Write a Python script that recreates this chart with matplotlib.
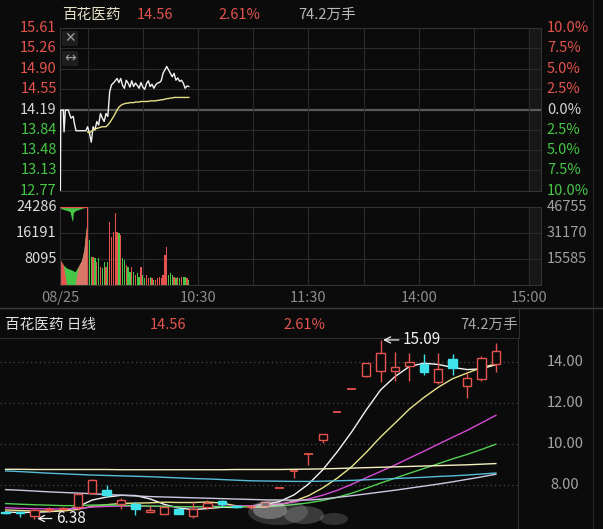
import numpy as np
import pandas as pd
import matplotlib
matplotlib.use('Agg')
import matplotlib.pyplot as plt
from matplotlib.patches import Rectangle, Ellipse
from matplotlib.lines import Line2D

plt.rcParams['font.family'] = ['Noto Sans CJK SC', 'DejaVu Sans']

W, H = 603, 529
BG = '#0b0b0b'
RED = '#e4534e'
GREEN = '#46c646'
CYAN = '#3fe2ea'
GRID = '#2b2b2b'

# ---------------- intraday data (minutes counted from 9:15) ----------------
prev_close = 14.19
price_levels = [15.61, 15.26, 14.90, 14.55, 14.19, 13.84, 13.48, 13.13, 12.77]
pct_labels = ['10.0%', '7.5%', '5.0%', '2.5%', '0.0%', '2.5%', '5.0%', '7.5%', '10.0%']
grid_minutes = [15, 45, 75, 105, 135, 165, 195, 225, 255]
time_ticks = [0, 75, 135, 195, 255]
time_labels = ['08/25', '10:30', '11:30', '14:00', '15:00']

auction_t = [0.2, 0.4, 1.8, 2.2, 2.9, 4.5, 5.1, 6.0, 7.2, 7.8, 8.7, 14.1]
auction_p = [12.77, 14.18, 14.18, 13.80, 14.18, 14.18, 14.12, 14.04, 14.07, 13.95, 13.82, 13.82]

minutes = list(range(15, 71))
price = [13.89, 13.78, 13.62, 13.89, 13.83, 13.98, 13.92, 14.12, 14.04, 13.98,
         14.12, 14.07, 14.50, 14.62, 14.65, 14.69, 14.73, 14.66, 14.73, 14.61,
         14.56, 14.70, 14.65, 14.58, 14.69, 14.59, 14.65, 14.61, 14.56, 14.66,
         14.58, 14.54, 14.64, 14.69, 14.59, 14.63, 14.56, 14.62, 14.65, 14.66,
         14.69, 14.82, 14.88, 14.94, 14.88, 14.82, 14.76, 14.82, 14.70, 14.74,
         14.68, 14.70, 14.65, 14.56, 14.60, 14.59]
avg_price = [13.80, 13.78, 13.81, 13.83, 13.85, 13.86, 13.87, 13.88, 13.89, 13.89,
             13.89, 13.92, 13.96, 14.01, 14.06, 14.12, 14.18, 14.23, 14.26, 14.28,
             14.29, 14.30, 14.30, 14.31, 14.31, 14.31, 14.32, 14.32, 14.32, 14.33,
             14.33, 14.33, 14.33, 14.33, 14.34, 14.34, 14.34, 14.34, 14.35, 14.35,
             14.36, 14.36, 14.37, 14.38, 14.38, 14.39, 14.39, 14.40, 14.40, 14.40,
             14.40, 14.40, 14.40, 14.40, 14.40, 14.40]
volume = [24286, 13960, 8790, 8790, 8270, 7240, 8270, 5690, 5170, 7240,
          5690, 7240, 19650, 14990, 16540, 22230, 16540, 16030, 15510, 8270,
          7760, 6200, 5690, 4140, 5690, 4140, 3100, 3620, 2590, 5690,
          3100, 2070, 3100, 2070, 2590, 2070, 1550, 1550, 2070, 2590,
          2070, 3100, 9310, 11890, 3100, 3620, 3100, 2590, 2070, 2590,
          2070, 2590, 2590, 2590, 2070, 1550]
vol_levels = [24286, 16191, 8095]
vol_right = ['46755', '31170', '15585']

# call auction volume: matched (bottom) and unmatched (hanging from top)
match_t = [0.2, 1.8, 3.6, 6.4, 8.2, 9.9, 11.8, 13.0, 14.1, 14.7]
match_v = [7750, 6200, 5270, 4650, 4130, 5680, 7750, 10850, 17060, 19000]
hang_t = [0.2, 2.0, 4.0, 5.5, 6.3, 6.8, 7.3, 8.5, 11.0, 13.0, 14.7]
hang_v = [500, 900, 1200, 1600, 3800, 4600, 1800, 1200, 700, 300, 150]

# ---------------- daily K-line data ----------------
prior_closes = [7.62, 7.55, 7.48, 7.60, 7.52, 7.45, 7.50, 7.41, 7.52, 7.45,
                7.30, 7.12, 7.05, 6.98, 7.10, 6.95, 6.88, 6.92, 6.96, 6.94,
                6.95, 7.02, 6.88, 6.85, 6.80, 6.78, 6.72, 6.70]
prior_closes = prior_closes + [6.65]
opens = [6.72, 6.68, 6.50, 6.80, 6.86, 6.95, 7.62, 7.76, 7.07, 7.11,
         6.70, 6.62, 6.86, 6.49, 6.94, 7.23, 6.98, 6.92, 7.00, 7.89,
         8.68, 9.55, 10.22, 11.56, 12.72, 13.33, 13.58, 13.58, 13.80, 13.93,
         13.04, 14.18, 12.83, 13.20, 13.90]
highs = [6.76, 6.75, 6.82, 6.92, 6.95, 7.62, 8.30, 8.00, 7.36, 7.19,
         6.98, 7.00, 6.95, 7.19, 7.27, 7.30, 7.02, 7.05, 7.20, 7.89,
         8.68, 9.55, 10.51, 11.56, 12.72, 13.99, 15.09, 14.50, 14.45, 14.42,
         14.45, 14.42, 13.48, 14.29, 14.96]
lows = [6.60, 6.45, 6.38, 6.72, 6.78, 6.80, 7.60, 7.45, 6.86, 6.54,
        6.70, 6.60, 6.58, 6.42, 6.82, 6.94, 6.88, 6.85, 6.95, 7.89,
        8.38, 8.98, 10.08, 11.56, 12.72, 13.28, 13.05, 13.07, 13.07, 13.37,
        12.93, 13.37, 12.28, 13.09, 13.53]
closes = [6.65, 6.63, 6.78, 6.85, 6.90, 7.59, 8.28, 7.51, 7.27, 6.86,
          6.78, 6.94, 6.62, 6.86, 7.14, 7.07, 6.92, 7.00, 7.17, 7.89,
          8.68, 9.55, 10.51, 11.56, 12.72, 13.99, 14.47, 13.77, 14.02, 13.53,
          13.69, 13.74, 13.25, 14.19, 14.56]
ma60 = [7.79, 7.76, 7.72, 7.68, 7.65, 7.62, 7.59, 7.55, 7.52, 7.48,
        7.45, 7.43, 7.41, 7.39, 7.37, 7.35, 7.33, 7.31, 7.29, 7.28,
        7.28, 7.28, 7.33, 7.41, 7.49, 7.58, 7.67, 7.76, 7.86, 7.96,
        8.06, 8.17, 8.29, 8.41, 8.54]
ma120 = [8.70, 8.67, 8.63, 8.59, 8.56, 8.53, 8.50, 8.48, 8.46, 8.44,
         8.42, 8.39, 8.36, 8.33, 8.31, 8.28, 8.25, 8.22, 8.21, 8.20,
         8.19, 8.19, 8.20, 8.22, 8.24, 8.27, 8.30, 8.33, 8.36, 8.39,
         8.43, 8.46, 8.50, 8.55, 8.60]
ma250 = [8.78, 8.78, 8.77, 8.77, 8.77, 8.77, 8.77, 8.77, 8.76, 8.76,
         8.76, 8.76, 8.76, 8.76, 8.76, 8.76, 8.77, 8.77, 8.77, 8.77,
         8.78, 8.79, 8.80, 8.82, 8.84, 8.86, 8.88, 8.90, 8.92, 8.94,
         8.96, 8.98, 9.00, 9.03, 9.06]
k_levels = [14, 12, 10, 8]
k_labels = ['14.00', '12.00', '10.00', '8.00']


def box(l, t, r, b):
    return [l / W, 1 - b / H, (r - l) / W, (b - t) / H]


def fx(x):
    return x / W


def fy(y):
    return 1 - y / H


fig = plt.figure(figsize=(W / 100, H / 100), dpi=100, facecolor=BG)

ax_p = fig.add_axes(box(60, 28, 541, 191))
ax_v = fig.add_axes(box(60, 206.7, 541, 285))
ax_k = fig.add_axes(box(0, 338, 518, 529))
for ax in (ax_p, ax_v, ax_k):
    ax.set_facecolor(BG)
    ax.set_xticks([])
    ax.set_yticks([])
    for s in ax.spines.values():
        s.set_color('#333333')
        s.set_linewidth(0.8)

# ---------- intraday price ----------
t_end = (541 - 60) / 1.84
ax_p.set_xlim(0, t_end)
ax_p.set_ylim(12.77, 15.61)
ax_p.axvspan(255, t_end, color='#171717', zorder=0)
for lv in price_levels:
    if lv == prev_close:
        ax_p.axhline(lv, color='#5a5a5a', lw=1.6, zorder=1)
    else:
        ax_p.axhline(lv, color=GRID, lw=0.8, zorder=1)
for m in grid_minutes:
    ax_p.axvline(m, color=GRID, lw=0.8, zorder=1)

ax_p.plot(auction_t + minutes, auction_p + price, color='#f2f2f2', lw=1.0, zorder=3)
ax_p.plot(minutes, avg_price, color='#e6df84', lw=1.0, zorder=3)

for lv, pl in zip(price_levels, pct_labels):
    col = RED if lv > prev_close else (GREEN if lv < prev_close else '#d6d6d6')
    ax_p.text(-0.007, lv, f'{lv:.2f}', transform=ax_p.get_yaxis_transform(),
              ha='right', va='center', color=col, fontsize=10.5)
    ax_p.text(1.012, lv, pl, transform=ax_p.get_yaxis_transform(),
              ha='left', va='center', color=col, fontsize=10.5)

# small icons
for top, sym in [(31, '\u2715'), (51, '\u2194')]:
    fig.add_artist(Rectangle((fx(62), fy(top + 15)), 16 / W, 15 / H,
                             transform=fig.transFigure, facecolor='#1e1e1e',
                             edgecolor='none'))
    fig.text(fx(70), fy(top + 7.5), sym, color='#9a9a9a', fontsize=10,
             ha='center', va='center', family=['DejaVu Sans'])

# header
fig.text(fx(62), fy(15), '百花医药', color='#e8e4c8', fontsize=10.5, va='center')
fig.text(fx(137), fy(15), '14.56', color=RED, fontsize=10.5, va='center')
fig.text(fx(218), fy(15), '2.61%', color=RED, fontsize=10.5, va='center')
fig.text(fx(298), fy(15), '74.2万手', color='#b8b8b8', fontsize=10.5, va='center')

# ---------- intraday volume ----------
ax_v.set_xlim(0, t_end)
ax_v.set_ylim(0, 24286)
ax_v.axvspan(255, t_end, color='#171717', zorder=0)
for lv in vol_levels[1:]:
    ax_v.axhline(lv, color=GRID, lw=0.8, zorder=1)
for m in grid_minutes:
    ax_v.axvline(m, color=GRID, lw=0.8, zorder=1)

ax_v.fill_between(match_t, 0, match_v, color=GREEN, lw=0, zorder=2)
ax_v.fill_between(match_t, 0, match_v, where=[t < 1.9 for t in match_t],
                  color=RED, lw=0, zorder=2, interpolate=True)
ax_v.fill_between(match_t, 0, match_v, where=[t > 9.5 for t in match_t],
                  color='#d9786a', lw=0, zorder=2, interpolate=True)
ax_v.fill_between(hang_t, [24286 - v for v in hang_v], 24286, color=GREEN, lw=0, zorder=2)
ax_v.plot([hang_t[0], hang_t[-1]], [24286, 24286], color=RED, lw=1.6, zorder=3)

prev = [auction_p[-1] + 0.05] + price[:-1]
vol_colors = []
for p, q in zip(price, prev):
    if p > q:
        vol_colors.append(RED)
    elif p < q:
        vol_colors.append(GREEN)
    else:
        vol_colors.append('#c9a77a')
ax_v.bar(minutes, volume, width=0.7, color=vol_colors, zorder=3)

for lv, rl in zip(vol_levels, vol_right):
    ax_v.text(-0.007, lv, str(lv), transform=ax_v.get_yaxis_transform(),
              ha='right', va='center', color='#dcdcdc', fontsize=10.5)
    ax_v.text(1.012, lv, rl, transform=ax_v.get_yaxis_transform(),
              ha='left', va='center', color='#a0a0a0', fontsize=10.5)

for m, lab in zip(time_ticks, time_labels):
    ax_v.text(m, -0.17, lab, transform=ax_v.get_xaxis_transform(),
              ha='center', va='center', color='#8c8c8c', fontsize=10.5)

# ---------- daily K-line ----------
n = len(closes)
idx = np.arange(n)
ax_k.set_xlim(-5.6 / 14.42, (518 - 5.6) / 14.42)
ax_k.set_ylim(14 - (529 - 362.3) / 20.5, 14 + (362.3 - 338) / 20.5)
ax_k.spines['left'].set_visible(False)
ax_k.spines['bottom'].set_visible(False)
ax_k.spines['top'].set_color('#2e2e2e')
ax_k.spines['right'].set_color('#2e2e2e')
for lv in k_levels:
    ax_k.axhline(lv, color='#4a4a4a', lw=0.9, ls=(0, (1, 2.5)), zorder=1)

all_close = pd.Series(prior_closes + closes)
ma_specs = [(5, '#f4f4f4'), (10, '#e8e28a'), (20, '#d64ad6'), (30, '#52d052')]
for period, col in ma_specs:
    ma = all_close.rolling(period).mean().values[len(prior_closes):]
    ax_k.plot(idx, ma, color=col, lw=1.0, zorder=2)
ax_k.plot(idx, ma60, color='#cdc8e2', lw=1.0, zorder=2)
ax_k.plot(idx, ma120, color='#56bcd8', lw=1.0, zorder=2)
ax_k.plot(idx, ma250, color='#f4f0c0', lw=1.0, zorder=2)

bw = 0.58
for i in range(n):
    o, h, l, c = opens[i], highs[i], lows[i], closes[i]
    up = c >= o
    col = RED if up else CYAN
    top, bot = max(o, c), min(o, c)
    if top > h - 1e-9 and h - l < 1e-9:
        ax_k.hlines(c, i - bw / 2, i + bw / 2, color=RED, lw=1.3, zorder=3)
        continue
    if h > top:
        ax_k.vlines(i, top, h, color=col, lw=1.0, zorder=3)
    if l < bot:
        ax_k.vlines(i, l, bot, color=col, lw=1.0, zorder=3)
    if top - bot < 0.04:
        ax_k.hlines(c, i - bw / 2, i + bw / 2, color=col, lw=1.3, zorder=3)
    else:
        ax_k.add_patch(Rectangle((i - bw / 2, bot), bw, top - bot,
                                 facecolor=BG if up else col, edgecolor=col,
                                 lw=1.0, zorder=4))

hi = int(np.argmax(highs))
lo = int(np.argmin(lows))
for j, val, off in [(hi, highs[hi], 20), (lo, lows[lo], 19)]:
    ax_k.annotate(f'{val:.2f}', xy=(j + 0.18, val), xytext=(off, 0),
                  textcoords='offset pixels', ha='left', va='center',
                  color='#f0f0f0', fontsize=11, zorder=6,
                  arrowprops=dict(arrowstyle='->', color='#f0f0f0', lw=0.9,
                                  shrinkA=1, shrinkB=0, relpos=(0, 0.5)))

for lv, lab in zip(k_levels, k_labels):
    ax_k.text(1 + 47 / 518, lv, lab, transform=ax_k.get_yaxis_transform(),
              ha='center', va='center', color='#a4a4a4', fontsize=10.5)

fig.text(fx(5), fy(325), '百花医药 日线', color='#e2e2e2', fontsize=10.5, va='center')
fig.text(fx(150), fy(325), '14.56', color=RED, fontsize=10.5, va='center')
fig.text(fx(283), fy(325), '2.61%', color=RED, fontsize=10.5, va='center')
fig.text(fx(518), fy(325), '74.2万手', color='#a8a8a8', fontsize=10.5, va='center', ha='right')

# frame lines
fig.add_artist(Line2D([0, 1], [fy(307.5), fy(307.5)], color='#3c3c3c', lw=1.0))
fig.add_artist(Line2D([fx(518.5), fx(518.5)], [fy(307.5), fy(338)], color='#2e2e2e', lw=0.8))
fig.add_artist(Line2D([fx(592.5), fx(592.5)], [0, 1], color='#2a2a2a', lw=0.8))

# blurred watermark smear at the bottom
for cx, cy, w, h, a in [(278, 512, 60, 26, 0.18), (270, 510, 34, 18, 0.35),
                        (304, 515, 40, 18, 0.22), (334, 519, 28, 12, 0.18)]:
    fig.add_artist(Ellipse((fx(cx), fy(cy)), w / W, h / H, transform=fig.transFigure,
                           facecolor='#e2e2e2', edgecolor='none', alpha=a))

fig.savefig('out.png', dpi=100, facecolor=BG)
